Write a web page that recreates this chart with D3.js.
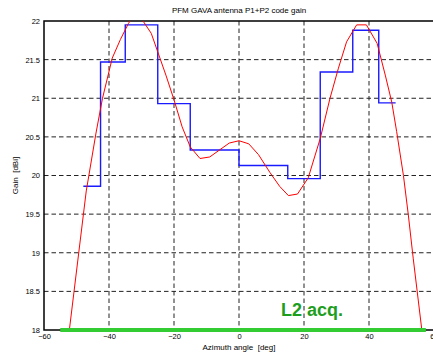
<!DOCTYPE html>
<html>
<head>
<meta charset="utf-8">
<script src="https://cdn.jsdelivr.net/npm/d3@7"></script>
<style>
  body { margin: 0; background: #fff; }
  text { font-family: "Liberation Sans", Arial, Helvetica, sans-serif; }
</style>
</head>
<body>
<div id="graph"></div>
<script>
//Size of the picture and the plot box inside it.
let w = 433;
let h = 356;
let margin = {left: 44, top: 21, right: 434, bottom: 330};

//Tick values for both axes.
let xTicks = [-60, -40, -20, 0, 20, 40, 60];
let yTicks = [18, 18.5, 19, 19.5, 20, 20.5, 21, 21.5, 22];

//Red curve: measured gain against azimuth.
let curveAz = [-52.2, -47, -44, -42, -39, -36.5, -34, -33, -30, -27, -25, -22.5, -20, -17.5, -15, -12, -9, -6, -3, 0,
               3, 6, 9.5, 12.5, 15.2, 18, 21.3, 25, 28, 30.6, 33.1, 36.2, 39.2, 42.5, 45, 47, 48.5, 50.6, 52.1, 53.6, 56.2];
let curveGain = [18.0, 19.8, 20.55, 21.0, 21.52, 21.76, 21.97, 22.03, 22.03, 21.84, 21.6, 21.3, 20.98, 20.63, 20.37, 20.22, 20.24, 20.33, 20.42, 20.45,
                 20.41, 20.27, 20.04, 19.86, 19.74, 19.76, 19.97, 20.48, 21.0, 21.39, 21.73, 21.95, 21.95, 21.71, 21.3, 20.95, 20.57, 20.0, 19.49, 18.93, 18.02];

//Blue steps: sector edges and the code gain in each sector.
let stepEdges = [-47.9, -42.6, -35, -25, -15, 0, 15, 25, 35, 43, 48.2];
let stepGain = [19.86, 21.47, 21.95, 20.93, 20.33, 20.13, 19.96, 21.34, 21.88, 20.94];

//Green bar: the L2 acquisition range.
let acqRange = [-55, 57.5];
let acqLabel = "L2 acq.";

const svg = d3.select("#graph")
  .append("svg")
  .attr("width", w)
  .attr("height", h);

let xScale = d3.scaleLinear().domain([-60, 60]).range([margin.left, margin.right]);
let yScale = d3.scaleLinear().domain([18, 22]).range([margin.bottom, margin.top]);

//Clip the curves to the plot box.
svg.append("clipPath")
  .attr("id", "box")
  .append("rect")
  .attr("x", margin.left)
  .attr("y", margin.top)
  .attr("width", margin.right - margin.left)
  .attr("height", margin.bottom - margin.top);

//Dashed grid lines.
svg.append("g")
  .selectAll("line")
  .data(xTicks.slice(1, -1))
  .enter()
  .append("line")
  .attr("x1", d => xScale(d)).attr("x2", d => xScale(d))
  .attr("y1", margin.top).attr("y2", margin.bottom)
  .attr("stroke", "#222").attr("stroke-width", 1)
  .attr("stroke-dasharray", "4.5,3");

svg.append("g")
  .selectAll("line")
  .data(yTicks.slice(1, -1))
  .enter()
  .append("line")
  .attr("y1", d => yScale(d)).attr("y2", d => yScale(d))
  .attr("x1", margin.left).attr("x2", margin.right)
  .attr("stroke", "#222").attr("stroke-width", 1)
  .attr("stroke-dasharray", "4.5,3");

//Axes, drawn with the tick labels only.
let xAxis = d3.axisBottom(xScale).tickValues(xTicks).tickSize(0).tickPadding(4).tickFormat(d3.format("d"));
let yAxis = d3.axisLeft(yScale).tickValues(yTicks).tickSize(0).tickPadding(4).tickFormat(d => d);

svg.append("g")
  .attr("transform", "translate(0," + margin.bottom + ")")
  .call(xAxis)
  .call(g => g.select(".domain").remove())
  .selectAll("text")
  .attr("font-size", "7.5px")
  .attr("fill", "#000")
  .style("font-family", "'Liberation Sans', Arial, sans-serif");

svg.append("g")
  .attr("transform", "translate(" + margin.left + ",0)")
  .call(yAxis)
  .call(g => g.select(".domain").remove())
  .selectAll("text")
  .attr("font-size", "7.5px")
  .attr("fill", "#000")
  .style("font-family", "'Liberation Sans', Arial, sans-serif");

//Box border.
svg.append("rect")
  .attr("x", margin.left)
  .attr("y", margin.top)
  .attr("width", margin.right - margin.left)
  .attr("height", margin.bottom - margin.top)
  .attr("fill", "none")
  .attr("stroke", "#000")
  .attr("stroke-width", 1.5);

//Blue step line.
let stepPoints = stepGain.map((g, i) => [stepEdges[i], g]);
stepPoints.push([stepEdges[stepEdges.length - 1], stepGain[stepGain.length - 1]]);

svg.append("path")
  .datum(stepPoints)
  .attr("clip-path", "url(#box)")
  .attr("fill", "none")
  .attr("stroke", "#1a1aff")
  .attr("stroke-width", 1.4)
  .attr("d", d3.line().x(d => xScale(d[0])).y(d => yScale(d[1])).curve(d3.curveStepAfter));

//Red measured curve.
svg.append("path")
  .datum(curveAz.map((a, i) => [a, curveGain[i]]))
  .attr("clip-path", "url(#box)")
  .attr("fill", "none")
  .attr("stroke", "#ff0000")
  .attr("stroke-width", 1)
  .attr("d", d3.line().x(d => xScale(d[0])).y(d => yScale(d[1])));

//Green acquisition bar and its label.
svg.append("line")
  .attr("x1", xScale(acqRange[0]))
  .attr("x2", xScale(acqRange[1]))
  .attr("y1", yScale(18))
  .attr("y2", yScale(18))
  .attr("stroke", "#33cc33")
  .attr("stroke-width", 4);

svg.append("text")
  .attr("x", xScale(12.9))
  .attr("y", yScale(18.18))
  .attr("font-size", "18px")
  .attr("font-weight", "bold")
  .attr("fill", "#1e9e1e")
  .text(acqLabel);

//Title and axis labels.
svg.append("text")
  .attr("x", xScale(0))
  .attr("y", 13)
  .attr("font-size", "8px")
  .style("text-anchor", "middle")
  .text("PFM GAVA antenna P1+P2 code gain");

svg.append("text")
  .attr("x", xScale(0))
  .attr("y", 350)
  .attr("font-size", "8px")
  .style("text-anchor", "middle")
  .style("white-space", "pre")
  .text("Azimuth angle  [deg]");

svg.append("text")
  .attr("transform", "translate(18," + yScale(20) + ") rotate(-90)")
  .attr("font-size", "8px")
  .style("text-anchor", "middle")
  .style("white-space", "pre")
  .text("Gain  [dBi]");
</script>
</body>
</html>
